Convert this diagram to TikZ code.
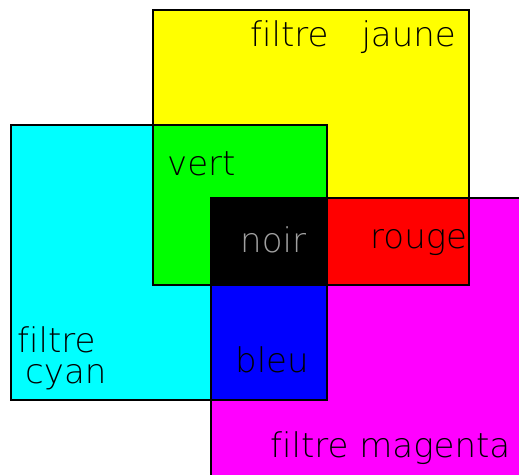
\documentclass[tikz,border=0pt]{standalone}
\usepackage{fontspec}
\setmainfont[Ligatures=NoCommon]{DejaVu Sans ExtraLight}
\usepackage{xcolor}
\usepackage{tikz}
\definecolor{fjaune}{RGB}{255,255,0}
\definecolor{fcyan}{RGB}{0,255,255}
\definecolor{fmagenta}{RGB}{255,0,255}
\definecolor{fvert}{RGB}{0,255,0}
\definecolor{frouge}{RGB}{255,0,0}
\definecolor{fbleu}{RGB}{0,0,255}
\definecolor{fnoir}{RGB}{0,0,0}
\definecolor{fnoirtxt}{HTML}{A0A0A0}

\begin{document}
\begin{tikzpicture}[x=1pt, y=-1pt,
  filtre/.style={line width=2pt, draw=black},
  every node/.style={inner sep=0pt, anchor=base west, font=\fontsize{34}{40}\selectfont}]
\useasboundingbox (0,0) rectangle (519,474);
\begin{scope}
\clip (0,0) rectangle (519,474);
% filtres
\fill[fjaune] (153,10) rectangle (469,285);
\fill[fcyan] (11,125) rectangle (327,400);
\fill[fmagenta] (211,198) rectangle (530,485);
% superpositions
\fill[fvert] (153,125) rectangle (327,285);
\fill[frouge] (327,198) rectangle (469,285);
\fill[fbleu] (211,285) rectangle (327,400);
\fill[fnoir] (211,198) rectangle (327,285);
% bords
\draw[filtre] (153,10) rectangle (469,285);
\draw[filtre] (11,125) rectangle (327,400);
\draw[filtre] (211,198) rectangle (530,485);
\end{scope}
% textes
\node (jaune) at (250,46) {filtre\hspace{33pt}jaune};
\node (vert) at (167,175) {vert};
\node[text=fnoirtxt] (noir) at (240,252) {noir};
\node (rouge) at (370,248) {rouge};
\node (cyan1) at (17,352) {filtre};
\node (cyan2) at (25,383) {cyan};
\node (bleu) at (235,372) {bleu};
\node (magenta) at (270,457) {filtre magenta};
\end{tikzpicture}
\end{document}
